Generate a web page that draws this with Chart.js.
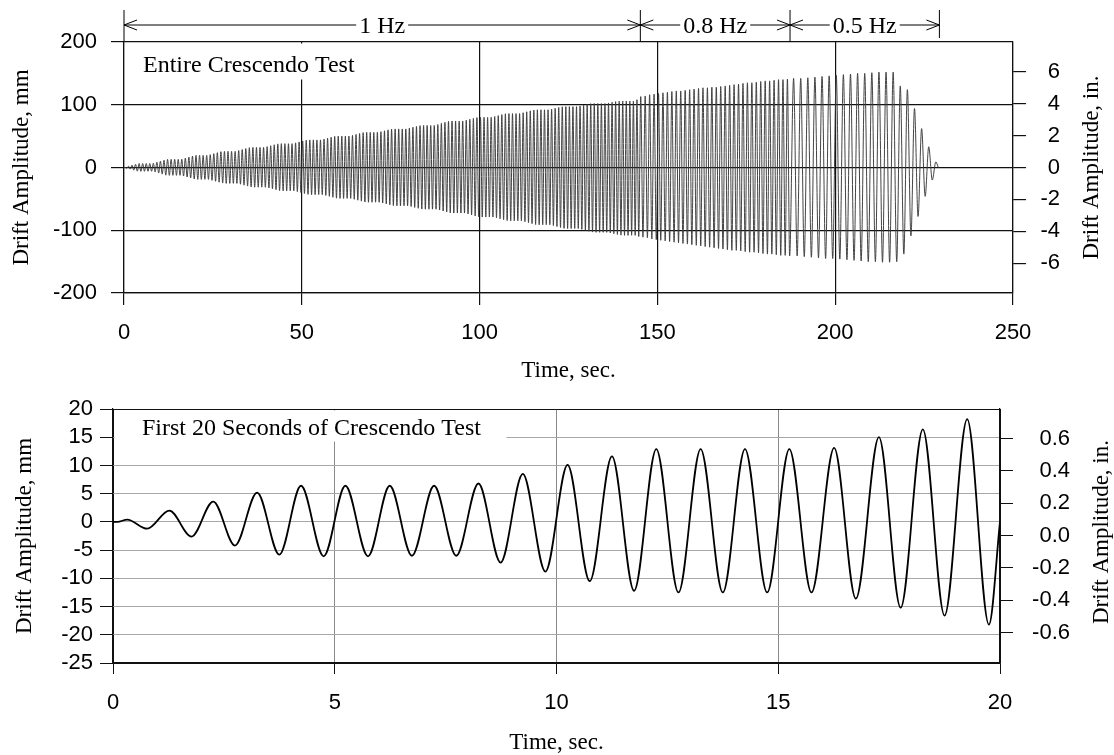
<!DOCTYPE html>
<html>
<head>
<meta charset="utf-8">
<script src="https://cdn.jsdelivr.net/npm/chart.js@4.4.1/dist/chart.umd.min.js"></script>
<style>
  body { margin: 0; background: #fff; }
  #topWrap { position: absolute; left: 0; top: 0; width: 1114px; height: 385px; }
  #bottomWrap { position: absolute; left: 0; top: 385px; width: 1114px; height: 370px; }
</style>
</head>
<body>
<div id="topWrap"><canvas id="topChart"></canvas></div>
<div id="bottomWrap"><canvas id="bottomChart"></canvas></div>
<script>
// ---- entire test: peak / trough of every cycle, mm ----
const peaks1Hz = [
  0.4, 2.0, 3.6, 5.2, 6.4, 6.4, 6.4, 6.4,
  6.8, 8.5, 10.1, 11.6, 12.9, 12.9, 12.9, 12.9,
  13.1, 15.0, 16.4, 18.2, 19.4, 19.4, 19.3, 19.4,
  20.5, 22.0, 23.6, 25.2, 25.8, 25.8, 25.7, 25.8,
  27.0, 28.6, 30.2, 31.6, 32.0, 32.0, 31.9, 32.0,
  33.2, 34.7, 36.2, 37.6, 38.0, 38.0, 37.9, 38.0,
  39.3, 40.8, 42.3, 43.6, 44.0, 44.0, 43.9, 44.0,
  45.2, 46.7, 48.2, 49.6, 50.0, 50.0, 49.9, 50.0,
  51.2, 52.7, 54.2, 55.6, 56.0, 56.0, 55.9, 56.0,
  57.1, 58.5, 59.9, 61.2, 61.5, 61.5, 61.4, 61.5,
  62.7, 64.1, 65.5, 66.7, 67.0, 67.0, 66.9, 67.0,
  68.5, 70.3, 72.0, 73.6, 74.0, 74.0, 73.9, 74.0,
  75.3, 76.8, 78.3, 79.6, 80.0, 80.0, 79.9, 80.0,
  81.3, 82.8, 84.3, 85.6, 86.0, 86.0, 85.9, 86.0,
  87.3, 88.8, 90.3, 91.6, 92.0, 92.0, 91.9, 92.0,
  93.1, 94.4, 95.7, 96.7, 97.0, 97.0, 96.9, 97.0,
  98.1, 99.4, 100.7, 101.7, 102.0, 102.0, 101.9, 102.0,
  102.9, 104.0, 105.0, 105.7, 106.0, 106.0, 105.9, 106.0,
  108.0
];
const troughs1Hz = [
  -1.2, -2.6, -4.2, -5.8, -6.1, -6.1, -6.0, -6.0,
  -7.2, -8.8, -10.5, -12.2, -12.5, -12.5, -12.5, -12.5,
  -13.6, -15.2, -16.6, -18.2, -19.0, -19.0, -18.9, -19.0,
  -20.4, -21.9, -23.4, -24.8, -25.3, -25.3, -25.2, -25.3,
  -26.6, -28.1, -29.6, -31.0, -31.4, -31.4, -31.3, -31.4,
  -32.6, -34.0, -35.4, -36.8, -37.2, -37.2, -37.1, -37.2,
  -38.4, -39.9, -41.4, -42.8, -43.2, -43.2, -43.1, -43.2,
  -44.5, -46.0, -47.5, -48.9, -49.3, -49.3, -49.2, -49.3,
  -50.6, -52.1, -53.6, -55.0, -55.4, -55.4, -55.3, -55.4,
  -56.6, -58.0, -59.4, -60.7, -61.0, -61.0, -60.9, -61.0,
  -62.2, -63.6, -65.0, -66.2, -66.5, -66.5, -66.4, -66.5,
  -67.8, -69.3, -70.8, -72.2, -72.6, -72.6, -72.5, -72.6,
  -74.0, -75.6, -77.2, -78.6, -79.0, -79.0, -78.9, -79.0,
  -80.3, -81.8, -83.3, -84.6, -85.0, -85.0, -84.9, -85.0,
  -86.4, -88.0, -89.5, -90.9, -91.3, -91.3, -91.2, -91.3,
  -92.6, -94.1, -95.6, -96.9, -97.3, -97.3, -97.2, -97.3,
  -98.6, -100.1, -101.6, -102.9, -103.3, -103.3, -103.2, -103.3,
  -104.4, -105.6, -106.8, -107.8, -108.1, -108.1, -108.0, -108.1,
  -110.0
];
const peaks08Hz = [113, 114, 116, 117, 118, 119, 120, 121, 122, 122,
  123, 124, 125, 126, 127, 127, 128, 128, 129, 130, 131, 132, 133, 134, 135, 135,
  136, 137, 138, 138, 139, 140, 140, 141];
const troughs08Hz = [-111, -112, -114, -115, -116, -117, -118, -119, -120, -121,
  -122, -123, -124, -125, -126, -127, -128, -129, -130, -131, -132, -132, -133, -134, -135, -135,
  -136, -137, -138, -138, -139, -140, -140, -141];
const peaks05Hz = [142, 142, 143, 144, 145, 146, 147, 148, 149, 150, 150, 151, 152, 152, 152,
  130, 124, 94, 62, 33, 9];
const troughs05Hz = [-141, -142, -143, -144, -145, -145, -146, -147, -148, -149, -150, -150, -151, -151, -150,
  -138, -109, -78, -46, -20];

const segStart = [0, 145, 187.8];
const segFreq = [1, 0.8, 0.5];
const segPeaks = [peaks1Hz, peaks08Hz, peaks05Hz];
const segTroughs = [troughs1Hz, troughs08Hz, troughs05Hz];

const bandEdges = [0, 145.2, 187.3, 229.3];
const bandLabels = ['1 Hz', '0.8 Hz', '0.5 Hz'];

const topXTicks = [0, 50, 100, 150, 200, 250];
const topYTicks = [-200, -100, 0, 100, 200];
const topInTicks = [-6, -4, -2, 0, 2, 4, 6];

// ---- first 20 seconds: times of the extremes and their values, mm ----
const bottomTimes = [0, 0.1, 0.32, 0.77, 1.27, 1.77, 2.26, 2.75, 3.25, 3.75, 4.24, 4.75,
  5.24, 5.75, 6.24, 6.74, 7.24, 7.74, 8.24, 8.74, 9.24, 9.75, 10.25, 10.75, 11.25, 11.75,
  12.25, 12.75, 13.25, 13.75, 14.25, 14.75, 15.25, 15.75, 16.26, 16.75, 17.27, 17.76,
  18.26, 18.75, 19.26, 19.75, 20];
const bottomDrift = [0, 0, 0.4, -1.2, 2.0, -2.6, 3.6, -4.2, 5.2, -5.8, 6.4, -6.1,
  6.4, -6.1, 6.4, -6.0, 6.4, -6.0, 6.8, -7.2, 8.5, -8.8, 10.1, -10.5, 11.6, -12.2,
  12.9, -12.5, 12.9, -12.5, 12.9, -12.5, 12.9, -12.5, 13.1, -13.6, 15.0, -15.2,
  16.4, -16.6, 18.2, -18.2, 0];

const bottomXTicks = [0, 5, 10, 15, 20];
const bottomYTicks = [-25, -20, -15, -10, -5, 0, 5, 10, 15, 20];
const bottomInTicks = [-0.6, -0.4, -0.2, 0, 0.2, 0.4, 0.6];

const SANS = "'Liberation Sans', Arial, sans-serif";
const SERIF = "'Liberation Serif', 'Times New Roman', serif";
Chart.defaults.font.family = SANS;
Chart.defaults.color = '#000';

// build the top trace from the cycle tables
let topPoints = [{x: 0, y: 0}];
for (let s = 0; s < segStart.length; s++) {
  for (let k = 0; k < segPeaks[s].length; k++) {
    topPoints.push({x: segStart[s] + (k + 0.25) / segFreq[s], y: segPeaks[s][k]});
    if (k < segTroughs[s].length) {
      topPoints.push({x: segStart[s] + (k + 0.75) / segFreq[s], y: segTroughs[s][k]});
    }
  }
}
topPoints.push({x: 229, y: 0});

let bottomPoints = bottomTimes.map(function (t, i) { return {x: t, y: bottomDrift[i]}; });

function useTicks(list) {
  return function (scale) { scale.ticks = list.map(function (v) { return {value: v}; }); };
}

function line(ctx, x0, y0, x1, y1) {
  ctx.beginPath();
  ctx.moveTo(x0, y0);
  ctx.lineTo(x1, y1);
  ctx.stroke();
}

const topDecor = {
  id: 'topDecor',
  afterDraw(chart) {
    const ctx = chart.ctx;
    const a = chart.chartArea;
    const x = chart.scales.x;
    ctx.save();
    // caption
    ctx.fillStyle = '#fff';
    ctx.fillRect(a.left + 3, a.top + 1.5, 260, 36);
    ctx.fillStyle = '#000';
    ctx.font = '24px ' + SERIF;
    ctx.textAlign = 'left';
    ctx.textBaseline = 'alphabetic';
    ctx.fillText('Entire Crescendo Test', 143, 72);

    // frequency bands above the plot
    const yA = 25;
    ctx.strokeStyle = '#000';
    ctx.lineWidth = 1;
    bandEdges.forEach(function (t, i) {
      const px = x.getPixelForValue(t);
      line(ctx, px, 10, px, i === bandEdges.length - 1 ? 38 : a.top);
    });
    bandLabels.forEach(function (lab, i) {
      const x0 = x.getPixelForValue(bandEdges[i]);
      const x1 = x.getPixelForValue(bandEdges[i + 1]);
      line(ctx, x0, yA, x1, yA);
      line(ctx, x0, yA, x0 + 13, yA - 5);
      line(ctx, x0, yA, x0 + 13, yA + 5);
      line(ctx, x1, yA, x1 - 13, yA - 5);
      line(ctx, x1, yA, x1 - 13, yA + 5);
      const cx = (x0 + x1) / 2;
      const w = ctx.measureText(lab).width;
      ctx.fillStyle = '#fff';
      ctx.fillRect(cx - w / 2 - 3, yA - 12, w + 6, 24);
      ctx.fillStyle = '#000';
      ctx.textAlign = 'center';
      ctx.fillText(lab, cx, yA + 8);
    });

    // right axis title
    ctx.translate(1092, (a.top + a.bottom) / 2);
    ctx.rotate(-Math.PI / 2);
    ctx.textAlign = 'center';
    ctx.textBaseline = 'middle';
    ctx.font = '23px ' + SERIF;
    ctx.fillText('Drift Amplitude, in.', 0, 0);
    ctx.restore();
  }
};

const bottomDecor = {
  id: 'bottomDecor',
  afterDraw(chart) {
    const ctx = chart.ctx;
    const a = chart.chartArea;
    ctx.save();
    ctx.fillStyle = '#fff';
    ctx.fillRect(a.left + 1.5, a.top + 1.5, 392, 31);
    ctx.fillStyle = '#000';
    ctx.font = '24px ' + SERIF;
    ctx.textAlign = 'left';
    ctx.textBaseline = 'alphabetic';
    ctx.fillText('First 20 Seconds of Crescendo Test', 142, 50);

    ctx.translate(1102, 147);
    ctx.rotate(-Math.PI / 2);
    ctx.textAlign = 'center';
    ctx.textBaseline = 'middle';
    ctx.font = '23px ' + SERIF;
    ctx.fillText('Drift Amplitude, in.', 0, 0);
    ctx.restore();
  }
};

new Chart(document.getElementById('topChart'), {
  type: 'line',
  data: {
    datasets: [{
      data: topPoints,
      borderColor: '#3a3a3a',
      borderWidth: 0.95,
      pointRadius: 0,
      cubicInterpolationMode: 'monotone',
      fill: false
    }]
  },
  options: {
    responsive: true,
    maintainAspectRatio: false,
    animation: false,
    layout: { padding: { top: 42, left: 0, right: 54, bottom: 0 } },
    plugins: { legend: { display: false }, tooltip: { enabled: false } },
    scales: {
      x: {
        type: 'linear', min: 0, max: 250,
        afterBuildTicks: useTicks(topXTicks),
        afterFit: function (s) { s.height = 92; },
        grid: { color: '#111', lineWidth: 1.2, tickLength: 12, tickColor: '#111' },
        border: { color: '#111', width: 1.2 },
        ticks: { font: { size: 22 }, padding: 15, maxRotation: 0, autoSkip: false },
        title: { display: true, text: 'Time, sec.', font: { family: SERIF, size: 23, lineHeight: 1 }, padding: { top: 0, bottom: 2.5 } }
      },
      y: {
        type: 'linear', position: 'left', min: -200, max: 200,
        afterBuildTicks: useTicks(topYTicks),
        afterFit: function (s) { s.width = 124; },
        grid: { color: '#111', lineWidth: 1.2, tickLength: 13, tickColor: '#111' },
        border: { color: '#111', width: 1.2 },
        ticks: { font: { size: 22 }, padding: 14, autoSkip: false },
        title: { display: true, text: 'Drift Amplitude, mm', font: { family: SERIF, size: 23, lineHeight: 1 }, padding: { top: 10, bottom: 0 } }
      },
      y2: {
        type: 'linear', position: 'right', min: -200 / 25.4, max: 200 / 25.4,
        afterBuildTicks: useTicks(topInTicks),
        afterFit: function (s) { s.width = 47; },
        grid: { drawOnChartArea: false, tickLength: 13, tickColor: '#111', lineWidth: 1.2 },
        border: { color: '#111', width: 1.2 },
        ticks: { font: { size: 22 }, padding: 0, crossAlign: 'far', autoSkip: false }
      }
    }
  },
  plugins: [topDecor]
});

new Chart(document.getElementById('bottomChart'), {
  type: 'line',
  data: {
    datasets: [{
      data: bottomPoints,
      borderColor: '#000',
      borderWidth: 1.8,
      pointRadius: 0,
      cubicInterpolationMode: 'monotone',
      fill: false
    }]
  },
  options: {
    responsive: true,
    maintainAspectRatio: false,
    animation: false,
    layout: { padding: { top: 24, left: 0, right: 44, bottom: 0 } },
    plugins: { legend: { display: false }, tooltip: { enabled: false } },
    scales: {
      x: {
        type: 'linear', min: 0, max: 20,
        afterBuildTicks: useTicks(bottomXTicks),
        afterFit: function (s) { s.height = 92; },
        grid: {
          color: function (ctx) { const v = ctx.tick.value; return (v === 0 || v === 20) ? '#111' : '#8a8a8a'; },
          lineWidth: 1, tickLength: 11, tickColor: '#111'
        },
        border: { color: '#111', width: 1.2 },
        ticks: { font: { size: 22 }, padding: 16, maxRotation: 0, autoSkip: false },
        title: { display: true, text: 'Time, sec.', font: { family: SERIF, size: 23, lineHeight: 1 }, padding: { top: 0, bottom: 0.5 } }
      },
      y: {
        type: 'linear', position: 'left', min: -25, max: 20,
        afterBuildTicks: useTicks(bottomYTicks),
        afterFit: function (s) { s.width = 113; },
        grid: {
          color: function (ctx) { const v = ctx.tick.value; return (v === -25 || v === 20) ? '#111' : '#a8a8a8'; },
          lineWidth: 1, tickLength: 13, tickColor: '#111'
        },
        border: { color: '#111', width: 1.2 },
        ticks: { font: { size: 22 }, padding: 7, autoSkip: false },
        title: { display: true, text: 'Drift Amplitude, mm', font: { family: SERIF, size: 23, lineHeight: 1 }, padding: { top: 13, bottom: 0 } }
      },
      y2: {
        type: 'linear', position: 'right', min: -0.789, max: 0.783,
        afterBuildTicks: useTicks(bottomInTicks),
        afterFit: function (s) { s.width = 70; },
        grid: { drawOnChartArea: false, tickLength: 13, tickColor: '#111', lineWidth: 1 },
        border: { color: '#111', width: 1.2 },
        ticks: { font: { size: 22 }, padding: 0, crossAlign: 'far', autoSkip: false, callback: function (v) { return v.toFixed(1); } }
      }
    }
  },
  plugins: [bottomDecor]
});
</script>
</body>
</html>
